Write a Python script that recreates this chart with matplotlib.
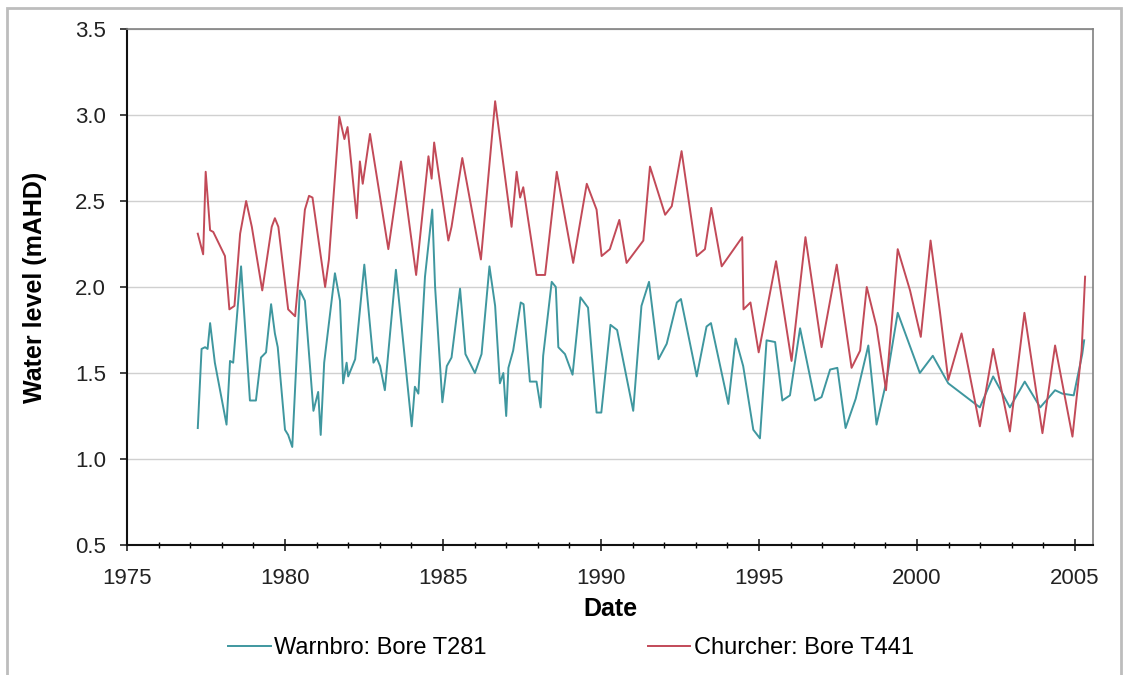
import numpy as np
import matplotlib
matplotlib.use("Agg")
import matplotlib.pyplot as plt
from matplotlib.patches import Rectangle

# Warnbro: Bore T281 (decimal year, water level mAHD)
warnbro_years = [1977.24, 1977.36, 1977.47, 1977.55, 1977.63, 1977.78, 1978.15, 1978.26, 1978.36, 1978.52,
                 1978.61, 1978.89, 1979.08, 1979.24, 1979.40, 1979.56, 1979.68, 1979.77, 1980.00, 1980.10,
                 1980.23, 1980.47, 1980.63, 1980.90, 1981.05, 1981.13, 1981.24, 1981.58, 1981.74, 1981.84,
                 1981.95, 1982.00, 1982.22, 1982.51, 1982.80, 1982.90, 1983.01, 1983.16, 1983.51, 1984.01,
                 1984.11, 1984.22, 1984.43, 1984.66, 1984.75, 1984.98, 1985.12, 1985.27, 1985.54, 1985.71,
                 1986.01, 1986.22, 1986.47, 1986.65, 1986.80, 1986.91, 1987.00, 1987.07, 1987.22, 1987.46,
                 1987.55, 1987.75, 1987.96, 1988.09, 1988.17, 1988.44, 1988.57, 1988.65, 1988.86, 1989.10,
                 1989.35, 1989.59, 1989.86, 1990.01, 1990.30, 1990.51, 1991.02, 1991.28, 1991.52, 1991.82,
                 1992.08, 1992.40, 1992.53, 1993.03, 1993.34, 1993.48, 1994.03, 1994.26, 1994.50, 1994.82,
                 1995.03, 1995.24, 1995.51, 1995.74, 1995.98, 1996.30, 1996.77, 1996.98, 1997.25, 1997.48,
                 1997.74, 1998.06, 1998.46, 1998.72, 1999.03, 1999.39, 2000.09, 2000.50, 2000.99, 2001.99,
                 2002.41, 2002.94, 2003.41, 2003.90, 2004.37, 2004.60, 2004.96, 2005.23, 2005.29]
warnbro_level = [1.18, 1.64, 1.65, 1.64, 1.79, 1.56, 1.20, 1.57, 1.56, 1.92,
                 2.12, 1.34, 1.34, 1.59, 1.62, 1.90, 1.73, 1.65, 1.17, 1.14,
                 1.07, 1.98, 1.92, 1.28, 1.39, 1.14, 1.56, 2.08, 1.92, 1.44,
                 1.56, 1.48, 1.58, 2.13, 1.56, 1.59, 1.54, 1.40, 2.10, 1.19,
                 1.42, 1.38, 2.06, 2.45, 2.00, 1.33, 1.54, 1.59, 1.99, 1.61,
                 1.50, 1.61, 2.12, 1.89, 1.44, 1.50, 1.25, 1.53, 1.63, 1.91,
                 1.90, 1.45, 1.45, 1.30, 1.60, 2.03, 2.00, 1.65, 1.61, 1.49,
                 1.94, 1.88, 1.27, 1.27, 1.78, 1.75, 1.28, 1.89, 2.03, 1.58,
                 1.67, 1.91, 1.93, 1.48, 1.77, 1.79, 1.32, 1.70, 1.54, 1.17,
                 1.12, 1.69, 1.68, 1.34, 1.37, 1.76, 1.34, 1.36, 1.52, 1.53,
                 1.18, 1.35, 1.66, 1.20, 1.45, 1.85, 1.50, 1.60, 1.44, 1.30,
                 1.48, 1.30, 1.45, 1.30, 1.40, 1.38, 1.37, 1.61, 1.69]

# Churcher: Bore T441
churcher_years = [1977.24, 1977.41, 1977.49, 1977.63, 1977.73, 1978.10, 1978.24, 1978.40, 1978.58, 1978.77,
                  1978.95, 1979.28, 1979.58, 1979.68, 1979.79, 1980.10, 1980.32, 1980.63, 1980.76, 1980.87,
                  1981.27, 1981.39, 1981.72, 1981.88, 1981.98, 1982.27, 1982.37, 1982.46, 1982.69, 1983.27,
                  1983.67, 1984.15, 1984.54, 1984.64, 1984.72, 1985.17, 1985.27, 1985.61, 1986.20, 1986.65,
                  1987.17, 1987.33, 1987.44, 1987.54, 1987.96, 1988.23, 1988.60, 1989.12, 1989.55, 1989.86,
                  1990.02, 1990.28, 1990.58, 1990.81, 1991.34, 1991.55, 1992.03, 1992.24, 1992.55, 1993.03,
                  1993.29, 1993.49, 1993.82, 1994.47, 1994.51, 1994.73, 1994.99, 1995.54, 1996.03, 1996.47,
                  1996.98, 1997.46, 1997.93, 1998.20, 1998.41, 1998.72, 1999.02, 1999.39, 1999.78, 2000.12,
                  2000.43, 2000.73, 2000.99, 2001.41, 2001.99, 2002.41, 2002.94, 2003.40, 2003.97, 2004.37,
                  2004.92, 2005.21, 2005.32]
churcher_level = [2.31, 2.19, 2.67, 2.33, 2.32, 2.18, 1.87, 1.89, 2.31, 2.50,
                  2.35, 1.98, 2.35, 2.40, 2.35, 1.87, 1.83, 2.45, 2.53, 2.52,
                  2.00, 2.16, 2.99, 2.86, 2.93, 2.40, 2.73, 2.60, 2.89, 2.22,
                  2.73, 2.07, 2.76, 2.63, 2.84, 2.27, 2.35, 2.75, 2.16, 3.08,
                  2.35, 2.67, 2.52, 2.58, 2.07, 2.07, 2.67, 2.14, 2.60, 2.45,
                  2.18, 2.22, 2.39, 2.14, 2.27, 2.70, 2.42, 2.47, 2.79, 2.18,
                  2.22, 2.46, 2.12, 2.29, 1.87, 1.91, 1.62, 2.15, 1.57, 2.29,
                  1.65, 2.13, 1.53, 1.63, 2.00, 1.77, 1.40, 2.22, 1.98, 1.71,
                  2.27, 1.85, 1.46, 1.73, 1.19, 1.64, 1.16, 1.85, 1.15, 1.66,
                  1.13, 1.63, 2.06]

assert len(warnbro_years) == len(warnbro_level)
assert len(churcher_years) == len(churcher_level)

plt.rcParams['font.family'] = ['Liberation Sans', 'DejaVu Sans']

fig = plt.figure(figsize=(11.23, 6.75), dpi=100)
ax = fig.add_axes([127 / 1123, 1 - 545 / 675, (1093 - 127) / 1123, (545 - 29) / 675])

# gray border round the whole picture
fig.patches.append(Rectangle((7 / 1123, -0.05), 1114 / 1123, 1.05 - 8 / 675,
                             transform=fig.transFigure, fill=False,
                             edgecolor='#bdbdbd', linewidth=2.0))

ax.plot(warnbro_years, warnbro_level, color='#3f979f', lw=1.4, label='Warnbro: Bore T281')
ax.plot(churcher_years, churcher_level, color='#c24a58', lw=1.4, label='Churcher: Bore T441')

ax.set_xlim(1975, 2005.57)
ax.set_ylim(0.5, 3.5)
ax.set_xticks(np.arange(1975, 2006, 5))
ax.set_xticks(np.arange(1975, 2006, 1), minor=True)
ax.set_yticks(np.arange(0.5, 3.51, 0.5))
ax.set_yticklabels([f"{v:.1f}" for v in np.arange(0.5, 3.51, 0.5)])
ax.grid(axis='y', color='#d0d0d0', lw=1.0)
ax.set_axisbelow(True)

ax.tick_params(axis='x', which='major', direction='inout', length=9, width=1.2,
               labelsize=16, pad=12, colors='#222222')
ax.tick_params(axis='x', which='minor', direction='inout', length=5, width=1.0)
ax.tick_params(axis='y', which='major', direction='out', length=5, width=1.2,
               labelsize=16, pad=10, colors='#222222')

for s in ['left', 'bottom']:
    ax.spines[s].set_color('#111111')
    ax.spines[s].set_linewidth(1.5)
for s in ['top', 'right']:
    ax.spines[s].set_color('#808080')
    ax.spines[s].set_linewidth(1.2)

ax.set_xlabel('Date', fontsize=18, fontweight='bold', labelpad=6)
ax.set_ylabel('Water level (mAHD)', fontsize=18, fontweight='bold', labelpad=20)

fig.legend(loc='center', bbox_to_anchor=(571 / 1123, 1 - 648 / 675), ncol=2,
           frameon=False, fontsize=17, handlelength=1.8, handletextpad=0.15,
           columnspacing=6.8)

fig.savefig('out.png', dpi=100, facecolor='white')
